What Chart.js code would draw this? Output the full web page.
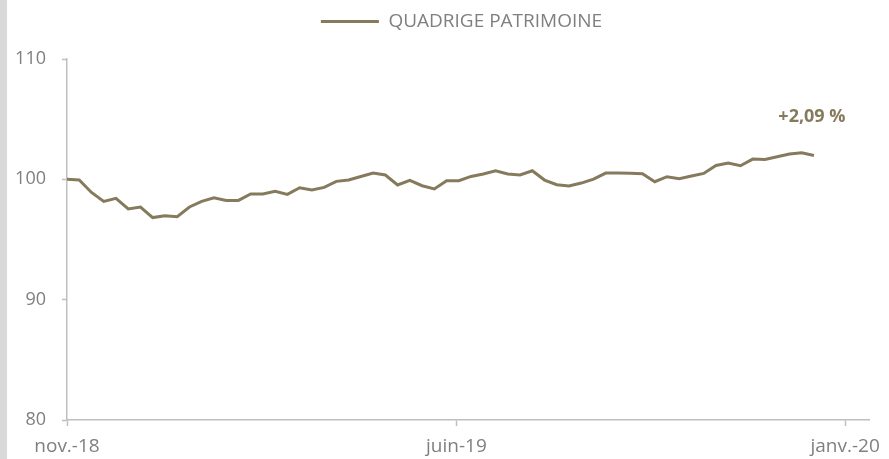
<!DOCTYPE html>
<html>
<head>
<meta charset="utf-8">
<script src="https://cdn.jsdelivr.net/npm/chart.js@4.4.1/dist/chart.umd.min.js"></script>
<style>
    html, body { margin: 0; padding: 0; background: #fff; }
    #wrap { position: relative; width: 889px; height: 459px; overflow: hidden; }
    #side { position: absolute; left: 0; top: 0; width: 7px; height: 459px; background: #d9d9d9; }
    canvas { position: absolute; left: 0; top: 0; }
</style>
</head>
<body>
<div id="wrap">
    <canvas id="chart" width="889" height="459"></canvas>
    <div id="side"></div>
</div>
<script>
// weekly values of the fund, base 100 at start
const seriesName = 'QUADRIGE PATRIMOINE';
const fundValues = [
    100.0, 99.95, 98.91, 98.17, 98.42, 97.54, 97.70, 96.82, 96.98, 96.90,
    97.70, 98.17, 98.47, 98.25, 98.25, 98.78, 98.78, 99.00, 98.75, 99.30,
    99.11, 99.33, 99.83, 99.94, 100.24, 100.52, 100.36, 99.53, 99.91, 99.47,
    99.20, 99.88, 99.88, 100.24, 100.44, 100.71, 100.44, 100.36, 100.71, 99.94,
    99.55, 99.44, 99.69, 100.02, 100.52, 100.52, 100.50, 100.46, 99.80, 100.22,
    100.05, 100.27, 100.49, 101.15, 101.35, 101.13, 101.68, 101.65, 101.87, 102.10,
    102.21, 101.98
];
// month labels and where they fall, counted in weeks from the first point
const monthLabels = ['nov.-18', 'juin-19', 'janv.-20'];
const monthWeeks = [0, 31.8, 63.55];
const yTicks = [80, 90, 100, 110];
const endNote = '+2,09 %';

const lineColor = '#867a5d';
const axisColor = '#bfbfbf';
const textColor = '#7f7f7f';
const fontFamily = '"Open Sans", "Liberation Sans", sans-serif';

const points = fundValues.map(function(v, i) { return { x: i, y: v }; });

// room under the legend, and legend nudged right a little
const legendPlace = {
    id: 'legendPlace',
    beforeLayout(chart) {
        const legend = chart.legend;
        if (!legend || legend._patched) return;
        const fit = legend.fit;
        legend.fit = function() {
            fit.call(this);
            this.height += 18;
        };
        legend._patched = true;
    },
    afterLayout(chart) {
        if (chart.legend) chart.legend.left = 40;
    }
};

const endLabel = {
    id: 'endLabel',
    afterDatasetsDraw(chart) {
        const pts = chart.getDatasetMeta(0).data;
        const last = pts[pts.length - 1];
        const ctx = chart.ctx;
        ctx.save();
        ctx.font = 'bold 18px ' + fontFamily;
        ctx.fillStyle = lineColor;
        ctx.textAlign = 'center';
        ctx.textBaseline = 'middle';
        ctx.fillText(endNote, last.x - 2, last.y - 39);
        ctx.restore();
    }
};

new Chart(document.getElementById('chart'), {
    type: 'line',
    data: {
        datasets: [{
            label: seriesName,
            data: points,
            borderColor: lineColor,
            backgroundColor: lineColor,
            borderWidth: 3,
            pointRadius: 0,
            tension: 0,
            fill: false
        }]
    },
    options: {
        responsive: false,
        animation: false,
        layout: {
            padding: { top: 2, left: 0, right: 6, bottom: 0 }
        },
        plugins: {
            legend: {
                position: 'top',
                labels: {
                    usePointStyle: true,
                    pointStyle: 'line',
                    pointStyleWidth: 58,
                    padding: 10,
                    color: textColor,
                    font: { family: fontFamily, size: 19 }
                }
            },
            tooltip: { enabled: false }
        },
        scales: {
            x: {
                type: 'linear',
                min: 0,
                max: 65.5,
                afterBuildTicks: function(scale) {
                    scale.ticks = monthWeeks.map(function(v) { return { value: v }; });
                },
                afterFit: function(scale) { scale.height = 39; },
                grid: {
                    drawOnChartArea: false,
                    drawTicks: true,
                    tickLength: 6,
                    tickColor: axisColor,
                    tickWidth: 1.5
                },
                border: { color: axisColor, width: 1.5 },
                ticks: {
                    autoSkip: false,
                    maxRotation: 0,
                    padding: 9,
                    color: textColor,
                    font: { family: fontFamily, size: 19 },
                    callback: function(value, i) { return monthLabels[i]; }
                }
            },
            y: {
                min: yTicks[0],
                max: yTicks[yTicks.length - 1],
                afterBuildTicks: function(scale) {
                    scale.ticks = yTicks.map(function(v) { return { value: v }; });
                },
                afterFit: function(scale) { scale.width = 67; },
                grid: {
                    drawOnChartArea: false,
                    drawTicks: true,
                    tickLength: 5,
                    tickColor: axisColor,
                    tickWidth: 1.5
                },
                border: { color: axisColor, width: 1.5 },
                ticks: {
                    padding: 16,
                    color: textColor,
                    font: { family: fontFamily, size: 18 }
                }
            }
        }
    },
    plugins: [legendPlace, endLabel]
});
</script>
</body>
</html>
